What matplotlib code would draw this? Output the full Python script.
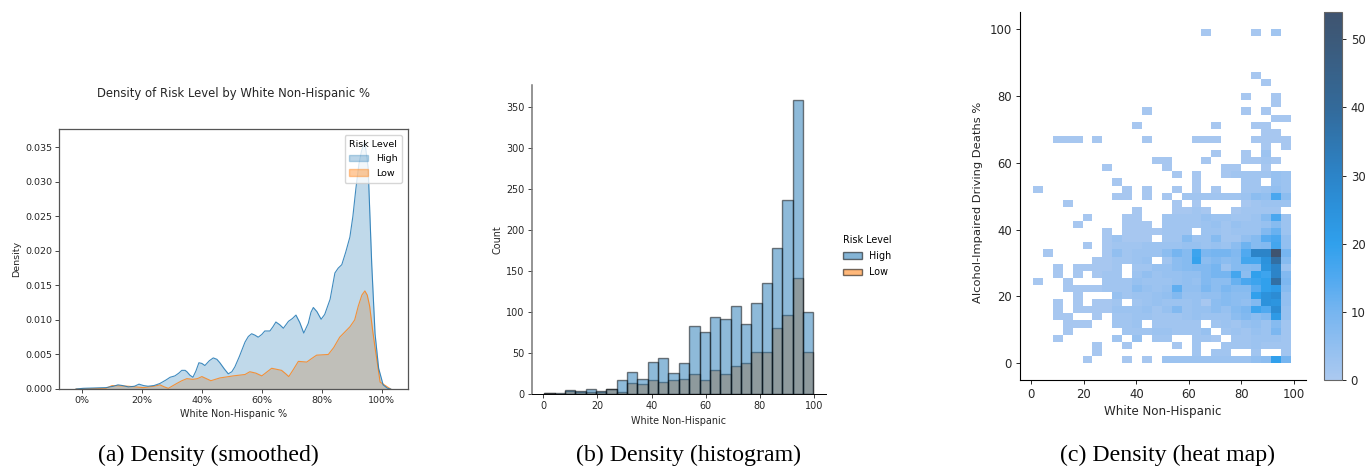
import numpy as np
import matplotlib
matplotlib.use("Agg")
import matplotlib.pyplot as plt
from matplotlib.colors import LinearSegmentedColormap
from matplotlib.patches import Patch
from matplotlib.ticker import PercentFormatter

W, H = 1366, 466

# (a) kde curves
high_x = [-2, 0.4, 8, 10.5, 12, 13.5, 15.5, 17.5, 19, 20.5, 22, 24, 26, 28, 29.4, 31, 32.3, 33.3, 34.4, 35, 36, 37, 38, 39,
          40, 41, 42.5, 43.8, 45, 46, 47.5, 48.8, 50, 51, 52.5, 54.4, 55.5, 56.6, 57.7, 58.8, 60, 61, 62.7, 63.7, 64.7,
          66, 67.2, 68.9, 70.2, 71.4, 72.7, 74, 75.5, 76.4, 77.2, 78.4, 79.8, 81, 82.8, 84.4, 85.5, 86.7, 88, 89.4, 90.4, 91.4,
          92.4, 93.3, 94.4, 95.5, 96.1, 96.7, 97.8, 99, 100.5, 102, 103]
high_y = [0, 0.0001, 0.0002, 0.0004, 0.0006, 0.0005, 0.0003, 0.0004, 0.0007, 0.0005, 0.0004, 0.0005, 0.0008, 0.0013, 0.0017,
          0.0019, 0.0023, 0.0027, 0.0027, 0.0025, 0.0020, 0.0017, 0.0026, 0.0038, 0.0037, 0.0034, 0.0041, 0.0045, 0.0043,
          0.0038, 0.0029, 0.0022, 0.0025, 0.0032, 0.0047, 0.0068, 0.0076, 0.0080, 0.0078, 0.0075, 0.0079, 0.0084, 0.0084,
          0.0090, 0.0097, 0.0093, 0.0088, 0.0098, 0.0102, 0.0107, 0.0096, 0.0081, 0.0095, 0.0111, 0.0118, 0.0112, 0.0101,
          0.0108, 0.0130, 0.0168, 0.0175, 0.0180, 0.0198, 0.0220, 0.0250, 0.0290, 0.0325, 0.0345, 0.0358, 0.0320, 0.0250,
          0.0180, 0.0080, 0.0030, 0.0006, 0.0001, 0]
low_x = [-2, 8, 10, 15.5, 20.5, 24, 26, 27.5, 28.8, 31.6, 33.3, 35, 37, 38.5, 40, 41.5, 43, 46, 50.5, 54.4, 56, 58, 60, 61.5, 63.3,
         66.6, 68, 69, 70.5, 72.2, 75, 76.6, 78.3, 82.2, 84, 86, 89.4, 91, 92.2, 93.4, 94.4, 95.2, 96, 97, 97.8, 99.5, 103]
low_y = [0, 0.0001, 0.0005, 0.0004, 0.0002, 0.0004, 0.0006, 0.0003, 0.0001, 0.0008, 0.0012, 0.0015, 0.0014, 0.0015, 0.0018, 0.0015,
         0.0012, 0.0016, 0.0019, 0.0021, 0.0025, 0.0023, 0.0019, 0.0024, 0.0030, 0.0027, 0.0022, 0.0018, 0.0028, 0.0040, 0.0039,
         0.0044, 0.0049, 0.0050, 0.0060, 0.0075, 0.0090, 0.0100, 0.0120, 0.0136, 0.0142, 0.0136, 0.0120, 0.0085, 0.0060, 0.0010, 0]

# (b) histogram counts, 26 bins
hist_edges = np.linspace(0.37, 99.75, 27)
high_counts = [2, 1, 5, 4, 7, 4, 7, 17, 27, 19, 39, 44, 26, 38, 83, 76, 94, 92, 108, 85, 111, 135, 178, 237, 358, 100]
low_counts = [1, 0, 4, 3, 3, 3, 6, 3, 14, 13, 17, 15, 17, 19, 25, 18, 30, 25, 34, 38, 51, 51, 81, 97, 142, 52]

# (c) heat map counts, first row is the top of the plot
heat_x = np.linspace(0.65, 98.7, 27)
heat_y = np.linspace(100, 0, 48)
heat_counts = [
    [0,0,0,0,0,0,0,0,0,0,0,0,0,0,0,0,0,1,0,0,0,0,1,0,2,0],
    [0]*26,
    [0]*26,
    [0]*26,
    [0]*26,
    [0]*26,
    [0,0,0,0,0,0,0,0,0,0,0,0,0,0,0,0,0,0,0,0,0,0,1,0,0,0],
    [0,0,0,0,0,0,0,0,0,0,0,0,0,0,0,0,0,0,0,0,0,0,0,1,0,0],
    [0]*26,
    [0,0,0,0,0,0,0,0,0,0,0,0,0,0,0,0,0,0,0,0,0,1,0,0,1,0],
    [0,0,0,0,0,0,0,0,0,0,0,0,0,0,0,0,0,0,0,0,0,0,0,0,1,0],
    [0,0,0,0,0,0,0,0,0,0,0,1,0,0,0,0,0,0,0,0,0,1,0,1,0,0],
    [0,0,0,0,0,0,0,0,0,0,0,0,0,0,0,0,0,0,0,0,0,0,0,0,1,1],
    [0,0,0,0,0,0,0,0,0,0,1,0,0,0,0,0,0,0,1,0,0,0,1,1,0,0],
    [0,0,0,0,0,0,0,0,0,0,0,0,0,0,0,0,0,0,0,0,0,0,0,1,1,0],
    [0,0,1,1,1,0,1,0,0,0,0,1,0,0,0,0,1,1,1,0,0,0,1,1,1,1],
    [0,0,0,0,0,0,0,0,0,0,0,0,0,0,0,0,0,0,0,0,0,0,0,1,0,1],
    [0,0,0,0,0,0,0,0,0,0,0,0,0,0,0,0,0,0,1,0,0,1,0,3,0,0],
    [0,0,0,0,0,0,0,0,0,0,0,0,1,1,0,0,0,1,0,0,0,1,1,2,1,0],
    [0,0,0,0,0,0,0,1,0,0,0,0,0,1,0,0,0,0,0,1,1,0,0,1,0,0],
    [0,0,0,0,0,0,0,0,0,0,0,0,0,0,1,0,1,0,0,1,2,2,2,2,4,3],
    [0,0,0,0,0,0,0,0,1,0,0,0,0,0,0,0,1,0,0,0,0,2,2,0,4,3],
    [1,0,0,0,0,0,0,0,0,1,0,1,0,0,1,0,1,0,1,0,0,2,2,3,5,3],
    [0,0,0,0,0,0,0,0,1,1,0,1,0,1,0,2,2,2,2,2,2,3,6,5,16,6],
    [0,0,0,1,0,0,0,0,0,0,0,0,0,0,1,0,1,0,0,0,0,1,2,3,3,3],
    [0,0,0,0,0,0,0,0,0,0,1,0,0,0,1,1,2,1,0,0,1,2,2,2,2,0],
    [0,0,0,0,0,1,0,0,0,1,1,0,0,2,2,2,2,4,3,3,2,2,3,7,16,3],
    [0,0,0,0,1,0,0,0,0,1,1,1,0,2,2,2,2,3,4,2,4,3,3,4,7,3],
    [0,0,0,0,0,0,0,1,0,1,1,1,1,2,2,2,0,3,3,2,3,3,3,8,12,3],
    [0,0,0,0,0,0,0,1,3,1,1,1,0,2,2,7,3,3,7,2,2,5,7,14,16,5],
    [0,0,0,0,0,1,0,1,2,2,2,3,3,3,3,4,4,3,4,3,6,11,7,8,17,5],
    [0,1,0,0,0,0,0,1,5,2,3,3,3,6,10,7,18,9,10,10,8,15,30,30,54,10],
    [0,0,0,0,0,0,1,1,2,2,3,4,0,2,6,7,19,6,8,6,7,17,17,25,38,7],
    [0,0,1,0,1,1,1,1,2,0,2,2,4,4,6,7,8,8,10,3,7,7,8,24,30,3],
    [0,0,1,0,1,0,1,2,2,0,3,5,3,4,4,5,5,8,10,10,17,6,20,18,30,8],
    [1,0,0,1,0,0,0,2,2,2,4,3,3,3,4,5,4,8,6,6,12,16,18,20,38,9],
    [0,0,0,1,1,1,1,2,2,2,6,4,3,4,13,5,5,9,6,9,7,7,14,20,22,7],
    [0,0,0,0,1,0,0,0,4,2,3,3,4,5,8,4,4,5,5,7,6,6,20,25,27,5],
    [0,0,1,0,1,0,1,1,2,0,2,3,4,3,3,3,4,1,6,7,6,5,8,25,24,5],
    [0,0,1,0,1,1,1,1,3,3,3,4,2,4,8,3,4,4,6,4,7,9,18,15,27,4],
    [0,0,1,1,0,0,1,0,2,2,3,3,2,2,2,3,4,3,3,3,6,8,6,8,22,4],
    [0,0,0,1,1,1,0,0,2,2,3,0,2,2,2,2,2,0,2,3,2,4,5,3,7,2],
    [0,0,0,1,0,0,0,0,0,2,2,2,3,3,2,2,2,4,0,2,3,2,4,3,9,2],
    [0,0,1,0,0,0,0,0,2,0,4,0,2,2,0,0,2,2,1,0,2,2,3,3,3,2],
    [0,0,0,0,0,0,1,0,0,1,0,0,0,0,1,0,2,0,0,2,2,2,3,2,2,2],
    [0,0,0,0,0,0,1,0,0,0,0,0,0,0,0,0,2,0,2,2,0,0,2,0,0,2],
    [0,0,0,0,0,1,0,0,0,1,0,1,0,3,3,3,3,3,3,3,3,3,5,6,20,10],
]

x_ticks = [0, 20, 40, 60, 80, 100]
risk_levels = ["High", "Low"]
captions = ["(a) Density (smoothed)", "(b) Density (histogram)", "(c) Density (heat map)"]
blue, orange = "tab:blue", "tab:orange"
heat_stops = ["#abc9f0", "#91bff0", "#76b5f0", "#50a9f0", "#30a0ec", "#2c92dc", "#2c84c8", "#336a9a", "#3c5a7a", "#3f5470"]
heat_pos = [0, 5, 10, 15, 20, 25, 30, 40, 50, 54]
text_color = "#262626"


def px_axes(left, top, right, bottom):
    return fig.add_axes([left / W, 1 - bottom / H, (right - left) / W, (bottom - top) / H])


fig = plt.figure(figsize=(W / 100, H / 100), dpi=100)

# (a) smoothed density
ax1 = px_axes(59.3, 129.3, 407.7, 389)
ax1.fill_between(low_x, low_y, color=orange, alpha=0.28, lw=0)
ax1.plot(low_x, low_y, color=orange, lw=0.8, alpha=0.8)
ax1.fill_between(high_x, high_y, color=blue, alpha=0.28, lw=0)
ax1.plot(high_x, high_y, color=blue, lw=0.8, alpha=0.85)
ax1.set_xlim(-7.6, 108.7)
ax1.set_ylim(0, 0.0376)
ax1.set_xticks(x_ticks)
ax1.xaxis.set_major_formatter(PercentFormatter(100, decimals=0))
ax1.set_yticks([0, 0.005, 0.01, 0.015, 0.02, 0.025, 0.03, 0.035])
ax1.set_yticklabels(["0.000", "0.005", "0.010", "0.015", "0.020", "0.025", "0.030", "0.035"])
ax1.tick_params(labelsize=6.8, length=2.6, width=0.6, pad=2.5, colors=text_color)
ax1.set_xlabel("White Non-Hispanic %", fontsize=6.9, labelpad=2.5, color=text_color)
ax1.set_ylabel("Density", fontsize=6.8, labelpad=3, color=text_color)
ax1.set_title("Density of Risk Level by White Non-Hispanic %", fontsize=8.35, pad=23.5, color=text_color)
for s in ax1.spines.values():
    s.set_color("#555555")
    s.set_linewidth(0.9)
handles1 = [Patch(facecolor=blue, edgecolor=blue, alpha=0.3), Patch(facecolor=orange, edgecolor=orange, alpha=0.4)]
ax1.legend(handles1, risk_levels, title="Risk Level", loc="upper right", fontsize=6.8, title_fontsize=6.8,
           borderaxespad=0.6, framealpha=0.8, handlelength=2, labelspacing=0.6, borderpad=0.5)

# (b) histogram
ax2 = px_axes(531.7, 85, 826, 394.3)
widths = np.diff(hist_edges)
ax2.bar(hist_edges[:-1], low_counts, width=widths, align="edge", color=orange, alpha=0.5, edgecolor="black", lw=1)
ax2.bar(hist_edges[:-1], high_counts, width=widths, align="edge", color=blue, alpha=0.5, edgecolor="black", lw=1)
ax2.set_xlim(-4.28, 104.4)
ax2.set_ylim(0, 376.4)
ax2.set_xticks(x_ticks)
ax2.set_yticks([0, 50, 100, 150, 200, 250, 300, 350])
ax2.tick_params(labelsize=6.9, length=2.6, width=0.6, pad=2.5, colors=text_color)
ax2.set_xlabel("White Non-Hispanic", fontsize=6.9, labelpad=3.5, color=text_color)
ax2.set_ylabel("Count", fontsize=6.9, labelpad=3, color=text_color)
ax2.spines[["top", "right"]].set_visible(False)
ax2.spines["left"].set_color("#777777")
ax2.spines["left"].set_linewidth(1.1)
ax2.spines["bottom"].set_linewidth(0.7)
handles2 = [Patch(facecolor=blue, edgecolor="black", alpha=0.55), Patch(facecolor=orange, edgecolor="black", alpha=0.55)]
fig.legend(handles2, risk_levels, title="Risk Level", loc="center left", bbox_to_anchor=(834 / W, 1 - 256 / H),
           fontsize=6.9, title_fontsize=6.9, frameon=False, handlelength=2, labelspacing=0.65)

# (c) heat map
ax3 = px_axes(1020.3, 12, 1305.7, 380)
heat_cmap = LinearSegmentedColormap.from_list("heat", [(p / 54, c) for p, c in zip(heat_pos, heat_stops)])
counts = np.ma.masked_equal(np.array(heat_counts), 0)
mesh = ax3.pcolormesh(heat_x, heat_y, counts, cmap=heat_cmap, vmin=0, vmax=54)
ax3.set_xlim(-4.19, 104.45)
ax3.set_ylim(-5.09, 105.2)
ax3.set_xticks(x_ticks)
ax3.set_yticks([0, 20, 40, 60, 80, 100])
ax3.tick_params(labelsize=8.4, length=3, width=0.7, pad=3, colors=text_color)
ax3.set_xlabel("White Non-Hispanic", fontsize=8.6, labelpad=3, color=text_color)
ax3.set_ylabel("Alcohol-Impaired Driving Deaths %", fontsize=8.25, labelpad=4.5, color=text_color, y=0.484)
ax3.spines[["top", "right"]].set_visible(False)
cax = px_axes(1324, 12, 1342.3, 380)
cbar = fig.colorbar(mesh, cax=cax)
cbar.set_ticks([0, 10, 20, 30, 40, 50])
cbar.ax.tick_params(labelsize=8.4, length=3, width=0.7, pad=3, colors=text_color)
cbar.outline.set_edgecolor("#666666")

# captions under the panels
for x, cap in zip([208, 688, 1168], captions):
    fig.text(x / W, 1 - 455 / H, cap, ha="center", va="center", family="Liberation Serif", fontsize=17.2, color="black")

fig.savefig("out.png", dpi=100)
